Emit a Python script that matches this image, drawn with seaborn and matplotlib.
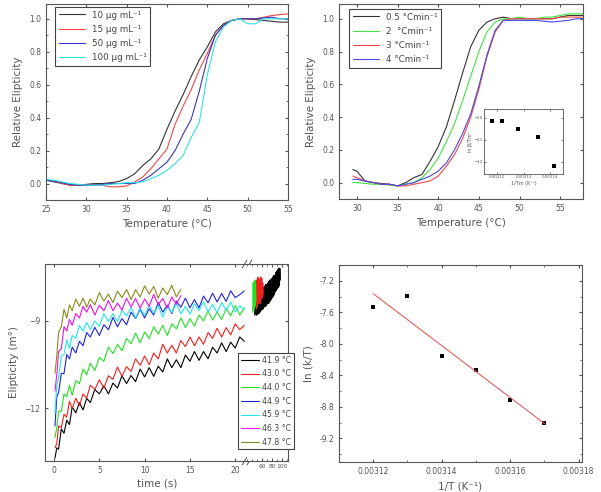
import numpy as np
import pandas as pd
import seaborn as sns
import matplotlib.pyplot as plt
from matplotlib.ticker import AutoMinorLocator, FormatStrFormatter

# ---- top left: concentration dependence ----
temp_tl = [25, 26, 27, 28, 29, 30, 31, 32, 33, 34, 35, 36, 37, 38, 39, 40,
           41, 42, 43, 44, 45, 46, 47, 48, 49, 50, 51, 52, 53, 54, 55]
conc_labels = ["10 μg mL⁻¹", "15 μg mL⁻¹", "50 μg mL⁻¹", "100 μg mL⁻¹"]
conc_10 = [0.02, 0.01, 0.0, -0.01, -0.01, -0.005, 0.0, 0.0, 0.005, 0.012, 0.03, 0.06,
           0.11, 0.15, 0.21, 0.33, 0.44, 0.54, 0.65, 0.75, 0.83, 0.92, 0.97, 0.99, 1.0,
           1.0, 0.995, 0.99, 0.985, 0.98, 0.98]
conc_15 = [0.02, 0.015, 0.0, -0.01, -0.01, -0.01, -0.005, -0.01, -0.02, -0.02, -0.015,
           0.01, 0.04, 0.09, 0.15, 0.21, 0.36, 0.47, 0.57, 0.69, 0.79, 0.9, 0.96, 0.99,
           1.0, 1.0, 1.0, 1.01, 1.02, 1.025, 1.03]
conc_50 = [0.02, 0.015, 0.005, -0.005, -0.01, -0.01, -0.01, -0.005, 0.0, 0.0, 0.0, 0.0,
           0.02, 0.05, 0.09, 0.13, 0.2, 0.3, 0.39, 0.56, 0.76, 0.9, 0.96, 0.99, 1.0, 1.0,
           1.0, 1.005, 1.01, 1.0, 1.0]
conc_100 = [0.025, 0.02, 0.01, 0.0, -0.005, -0.01, -0.01, -0.01, -0.005, 0.0, 0.005,
            0.005, 0.01, 0.03, 0.05, 0.08, 0.12, 0.17, 0.28, 0.37, 0.66, 0.86, 0.95,
            0.99, 1.0, 0.97, 0.97, 1.0, 1.0, 1.0, 1.0]

# ---- top right: heating rate dependence ----
temp_tr = [29.5, 30, 31, 32, 33, 34, 35, 36, 37, 38, 39, 40, 41, 42, 43, 44, 45, 46,
           47, 48, 49, 50, 51, 52, 53, 54, 55, 56, 57, 58]
rate_labels = ["0.5 °Cmin⁻¹", "2  °Cmin⁻¹", "3 °Cmin⁻¹", "4 °Cmin⁻¹"]
rate_05 = [0.08, 0.07, 0.01, 0.0, -0.005, -0.01, -0.02, 0.0, 0.03, 0.05, 0.13, 0.22,
           0.34, 0.5, 0.67, 0.83, 0.93, 0.98, 1.0, 1.01, 1.0, 1.0, 1.0, 1.0, 1.0, 1.0,
           1.01, 1.02, 1.02, 1.02]
rate_2 = [0.0, 0.0, -0.005, -0.01, -0.01, -0.015, -0.02, -0.01, 0.0, 0.03, 0.08, 0.15,
          0.25, 0.36, 0.5, 0.65, 0.8, 0.92, 0.98, 1.0, 1.0, 1.01, 1.0, 1.0, 1.01, 1.01,
          1.02, 1.03, 1.03, 1.03]
rate_3 = [0.04, 0.03, 0.01, 0.0, -0.01, -0.01, -0.02, -0.02, -0.01, 0.0, 0.01, 0.04,
          0.1, 0.17, 0.27, 0.4, 0.57, 0.77, 0.92, 0.99, 1.0, 1.0, 1.0, 1.0, 1.0, 1.0,
          1.01, 1.01, 1.01, 1.01]
rate_4 = [0.02, 0.02, 0.01, 0.0, -0.01, -0.01, -0.02, -0.01, 0.0, 0.02, 0.04, 0.07,
          0.12, 0.2, 0.3, 0.42, 0.59, 0.78, 0.93, 0.99, 0.99, 0.99, 0.99, 0.99, 0.985,
          0.98, 0.985, 0.99, 1.0, 1.0]

# inset: Kissinger-type plot
inv_tm = [0.003118, 0.0031217, 0.003128, 0.0031356, 0.0031414]
ln_rate = [-10.15, -10.15, -10.5, -10.85, -12.2]

# ---- bottom left: kinetic traces ----
time_s = [0.1, 0.3, 0.5, 0.8, 1.1, 1.4, 1.7, 2.0, 2.4, 2.8, 3.2, 3.6, 4.0, 4.5, 5.0,
          5.5, 6.0, 6.5, 7.0, 7.5, 8.0, 8.5, 9.0, 9.5, 10.0, 10.5, 11.0, 11.5, 12.0,
          12.5, 13.0, 13.5, 14.0, 14.5, 15.0, 15.5, 16.0, 16.5, 17.0, 17.5, 18.0, 18.5,
          19.0, 19.5, 20.0, 20.5, 21.0]
trace_labels = ["41.9 °C", "43.0 °C", "44.0 °C", "44.9 °C", "45.9 °C", "46.3 °C", "47.8 °C"]
tr_419 = [-13.70, -13.35, -13.40, -12.70, -12.85, -12.40, -12.55, -11.95, -12.15, -11.80,
          -12.05, -11.65, -11.80, -11.35, -11.50, -11.22, -11.50, -11.13, -11.30, -10.88,
          -11.15, -10.87, -11.08, -10.65, -10.92, -10.60, -10.90, -10.55, -10.75, -10.30,
          -10.60, -10.33, -10.60, -10.17, -10.38, -10.05, -10.35, -10.05, -10.30, -9.90,
          -10.10, -9.75, -10.05, -9.73, -9.93, -9.55, -9.70]
tr_430 = [-13.35, -13.20, -12.60, -12.65, -12.20, -12.30, -11.75, -12.00, -11.65, -11.90,
          -11.50, -11.65, -11.20, -11.35, -11.02, -11.30, -10.88, -11.00, -10.58, -10.90,
          -10.57, -10.73, -10.30, -10.52, -10.20, -10.50, -10.10, -10.30, -9.80, -10.10,
          -9.83, -10.10, -9.67, -9.88, -9.55, -9.85, -9.55, -9.80, -9.40, -9.60, -9.25,
          -9.55, -9.23, -9.48, -9.10, -9.30, -9.15]
tr_440 = [-13.00, -12.65, -12.10, -12.10, -11.50, -11.60, -11.20, -11.55, -11.05, -11.15,
          -10.65, -10.85, -10.45, -10.70, -10.25, -10.38, -9.90, -10.12, -9.80, -10.02,
          -9.60, -9.78, -9.42, -9.75, -9.38, -9.60, -9.20, -9.45, -9.15, -9.50, -9.10,
          -9.27, -8.90, -9.23, -8.92, -9.18, -8.80, -9.00, -8.65, -8.97, -8.70, -8.95,
          -8.57, -8.82, -8.47, -8.80, -8.55]
tr_449 = [-12.60, -11.60, -11.45, -10.80, -10.80, -10.15, -10.30, -9.90, -10.10, -9.70,
          -9.85, -9.40, -9.55, -9.22, -9.50, -9.13, -9.30, -8.88, -9.20, -8.92, -9.13,
          -8.70, -8.92, -8.60, -8.90, -8.58, -8.80, -8.37, -8.70, -8.46, -8.75, -8.32,
          -8.53, -8.22, -8.55, -8.27, -8.55, -8.15, -8.38, -8.05, -8.35, -8.06, -8.33,
          -7.97, -8.20, -8.10, -7.97]
tr_459 = [-12.15, -11.20, -10.95, -10.20, -10.15, -9.65, -9.95, -9.50, -9.60, -9.15,
          -9.35, -9.05, -9.30, -9.00, -9.18, -8.75, -9.02, -8.75, -9.02, -8.63, -8.83,
          -8.54, -8.90, -8.56, -8.82, -8.45, -8.74, -8.48, -8.87, -8.50, -8.72, -8.40,
          -8.76, -8.50, -8.77, -8.41, -8.65, -8.35, -8.69, -8.43, -8.72, -8.37, -8.64,
          -8.35, -8.70, -8.48, -8.62]
tr_463 = [-11.40, -10.85, -10.05, -9.95, -9.20, -9.35, -8.95, -9.15, -8.75, -8.90,
          -8.50, -8.70, -8.44, -8.80, -8.46, -8.65, -8.30, -8.65, -8.39, -8.63, -8.22,
          -8.52, -8.23, -8.56, -8.25, -8.50, -8.09, -8.44, -8.23, -8.56, -8.18, -8.43,
          -8.13]
tr_478 = [-10.80, -10.20, -9.40, -9.20, -8.60, -8.90, -8.45, -8.65, -8.25, -8.50, -8.22,
          -8.53, -8.25, -8.45, -8.03, -8.32, -8.08, -8.37, -7.98, -8.20, -7.92, -8.27,
          -7.93, -8.18, -7.80, -8.08, -7.82, -8.22, -7.87, -8.10, -7.78, -8.18, -7.92]

# long-time part (after the axis break)
long_t_419 = [45, 46, 47, 48, 49, 50, 51, 52, 53, 54, 55, 56, 57, 58, 59, 60, 61, 62,
              63, 64, 65, 66, 67, 68, 69, 70, 71, 72, 73, 74, 75, 76, 77, 78, 79, 80,
              81, 82, 83, 84, 85, 86, 87, 88, 89, 90, 91, 92, 93, 94, 95, 96, 97]
long_419 = [-8.8, -8.2, -8.75, -8.1, -8.8, -8.15, -8.7, -8.0, -8.75, -8.05, -8.7, -7.95,
            -8.65, -8.0, -8.6, -7.9, -8.6, -7.85, -8.55, -7.9, -8.5, -7.8, -8.5, -7.75,
            -8.45, -7.8, -8.4, -7.7, -8.4, -7.65, -8.35, -7.6, -8.3, -7.6, -8.25, -7.55,
            -8.2, -7.5, -8.15, -7.45, -8.1, -7.45, -8.0, -7.35, -7.95, -7.3, -7.9, -7.25,
            -7.85, -7.2, -7.8, -7.2, -7.6]
long_t_430 = [48, 49, 50, 51, 52, 53, 54, 55, 56, 57, 58, 59, 60, 61, 62]
long_430 = [-8.6, -7.6, -8.5, -7.5, -8.4, -7.55, -8.3, -7.6, -8.4, -7.5, -8.25, -7.55,
            -8.2, -7.7, -8.1]
long_t_440 = [41, 42, 43, 44, 45, 46, 47]
long_440 = [-8.7, -7.7, -8.6, -7.65, -8.5, -7.6, -8.3]

# ---- bottom right: Eyring plot ----
inv_t = [0.00312, 0.00313, 0.00314, 0.00315, 0.00316, 0.00317]
ln_kt = [-7.53, -7.39, -8.155, -8.33, -8.716, -9.005]

sns.set_style("ticks")
plt.rcParams.update({
    "font.family": ["DejaVu Sans"],
    "xtick.direction": "in", "ytick.direction": "in",
    "xtick.top": True, "ytick.right": True,
    "xtick.labelsize": 5.5, "ytick.labelsize": 5.5,
    "xtick.color": "#555555", "ytick.color": "#555555",
    "axes.edgecolor": "#555555", "axes.linewidth": 0.8,
    "axes.labelcolor": "#555555", "axes.labelsize": 7.5,
    "xtick.major.size": 2.5, "ytick.major.size": 2.5,
    "xtick.minor.size": 1.5, "ytick.minor.size": 1.5,
    "legend.fontsize": 6,
})

fig = plt.figure(figsize=(6.01, 4.92), dpi=100)
W, H = 601, 492


def box(l, t, r, b):
    return [l / W, 1 - b / H, (r - l) / W, (b - t) / H]


def legend_style(leg):
    leg.get_frame().set_edgecolor("#444444")
    leg.get_frame().set_linewidth(0.8)
    for txt in leg.get_texts():
        txt.set_color("#444444")


# top left
ax = fig.add_axes(box(46, 4, 288, 200))
for lab, y, c in zip(conc_labels, [conc_10, conc_15, conc_50, conc_100],
                     ["#333333", "#f04848", "#3838b8", "#30e0e8"]):
    sns.lineplot(x=temp_tl, y=y, ax=ax, color=c, lw=0.8, label=lab)
ax.set_xlim(25, 55)
ax.set_ylim(-0.1, 1.09)
ax.set_xticks(range(25, 56, 5))
ax.set_yticks(np.arange(0, 1.01, 0.2))
ax.yaxis.set_major_formatter(FormatStrFormatter("%.1f"))
ax.yaxis.set_minor_locator(AutoMinorLocator(2))
ax.set_xlabel("Temperature (°C)")
ax.set_ylabel("Relative Elipticity")
leg = ax.legend(loc="upper left", bbox_to_anchor=(55 / W, 1 - 7 / H),
                bbox_transform=fig.transFigure, borderaxespad=0, fancybox=False,
                handlelength=3.0, labelspacing=0.6, framealpha=1, fontsize=6.3)
legend_style(leg)

# top right
ax = fig.add_axes(box(339, 4, 583, 199))
for lab, y, c in zip(rate_labels, [rate_05, rate_2, rate_3, rate_4],
                     ["#333333", "#44e044", "#f04848", "#4848e0"]):
    sns.lineplot(x=temp_tr, y=y, ax=ax, color=c, lw=0.8, label=lab)
ax.set_xlim(27.8, 57.8)
ax.set_ylim(-0.1, 1.09)
ax.set_xticks(range(30, 56, 5))
ax.set_yticks(np.arange(0, 1.01, 0.2))
ax.yaxis.set_major_formatter(FormatStrFormatter("%.1f"))
ax.set_xlabel("Temperature (°C)")
ax.set_ylabel("Relative Elipticity")
leg = ax.legend(loc="upper left", bbox_to_anchor=(349 / W, 1 - 9 / H),
                bbox_transform=fig.transFigure, borderaxespad=0, fancybox=False,
                handlelength=3.0, labelspacing=0.6, framealpha=1, fontsize=6.3)
legend_style(leg)

# inset
ins = fig.add_axes(box(484, 109, 563, 174))
sns.scatterplot(x=inv_tm, y=ln_rate, ax=ins, color="black", marker="s", s=5,
                edgecolor="black", linewidth=0)
ins.set_xlim(0.003115, 0.003145)
ins.set_ylim(-12.55, -9.6)
ins.set_xticks([0.00312, 0.00313, 0.00314])
ins.set_xticklabels(["0.00312", "0.00313", "0.00314"])
ins.set_yticks([-10, -11, -12])
ins.tick_params(labelsize=2.8, length=1.2, width=0.5, pad=1)
for s in ins.spines.values():
    s.set_linewidth(0.6)
ins.set_xlabel("1/Tm (K⁻¹)", fontsize=3.5, labelpad=1)
ins.set_ylabel("ln β/Tm²", fontsize=3.5, labelpad=1)

# bottom left, two segments with a break
ax1 = fig.add_axes(box(45, 264, 247, 461))
ax2 = fig.add_axes(box(247, 264, 288, 461), sharey=ax1)
trace_colors = ["#000000", "#ee2020", "#22e022", "#2222d8", "#22e8e8", "#ee10ee", "#8a8a1a"]
trace_data = [tr_419, tr_430, tr_440, tr_449, tr_459, tr_463, tr_478]
for lab, y, c in zip(trace_labels, trace_data, trace_colors):
    sns.lineplot(x=time_s[:len(y)], y=y, ax=ax1, color=c, lw=0.8, label=lab,
                 estimator=None, sort=False)
for t, y, c in [(long_t_419, long_419, trace_colors[0]),
                (long_t_430, long_430, trace_colors[1]),
                (long_t_440, long_440, trace_colors[2])]:
    sns.lineplot(x=t, y=y, ax=ax2, color=c, lw=1.0, estimator=None, sort=False)
ax1.set_xlim(-1, 21.3)
ax2.set_xlim(29, 113)
ax1.set_ylim(-13.8, -7.05)
ax1.set_yticks([-9, -12])
ax1.set_xticks([0, 5, 10, 15, 20])
ax2.set_xticks([60, 80, 100])
ax2.tick_params(axis="x", labelsize=4.3, pad=2.5)
ax2.xaxis.set_minor_locator(AutoMinorLocator(2))
ax1.spines["right"].set_visible(False)
ax2.spines["left"].set_visible(False)
ax1.tick_params(right=False)
ax2.tick_params(left=False, labelleft=False)
ax1.set_ylabel("Elipticity (m°)")
fig.text(157 / W, 1 - 486 / H, "time (s)", ha="center", color="#555555", fontsize=7.5)
for yy in (0, 1):
    for dx in (-0.012, 0.012):
        ax1.plot([1 + dx - 0.012, 1 + dx + 0.012], [yy - 0.02, yy + 0.02],
                 transform=ax1.transAxes, color="#555555", lw=0.7, clip_on=False)
handles, labels = ax1.get_legend_handles_labels()
ax1.get_legend().remove()
leg = fig.legend(handles, labels, loc="upper left", bbox_to_anchor=(238 / W, 1 - 353 / H),
                 borderaxespad=0, fancybox=False, handlelength=2.3, handletextpad=0.5,
                 borderpad=0.35, labelspacing=0.6, framealpha=1, fontsize=5.6)
legend_style(leg)

# bottom right
ax = fig.add_axes(box(339, 265, 582, 462))
df_e = pd.DataFrame({"inv_t": inv_t, "ln_kt": ln_kt})
sns.regplot(data=df_e, x="inv_t", y="ln_kt", ax=ax, scatter=False, ci=None,
            line_kws=dict(color="#e06060", lw=0.8))
sns.scatterplot(data=df_e, x="inv_t", y="ln_kt", ax=ax, color="black", marker="s",
                s=12, linewidth=0)
ax.set_xlim(0.00311, 0.003181)
ax.set_ylim(-9.5, -7.0)
ax.set_xticks([0.00312, 0.00314, 0.00316, 0.00318])
ax.set_xticklabels(["0.00312", "0.00314", "0.00316", "0.00318"])
ax.set_yticks([-7.2, -7.6, -8.0, -8.4, -8.8, -9.2])
ax.yaxis.set_major_formatter(FormatStrFormatter("%.1f"))
ax.xaxis.set_minor_locator(AutoMinorLocator(2))
ax.yaxis.set_minor_locator(AutoMinorLocator(2))
ax.set_xlabel("1/T (K⁻¹)")
ax.set_ylabel("ln (k/T)")

fig.savefig("out.png", dpi=100)
